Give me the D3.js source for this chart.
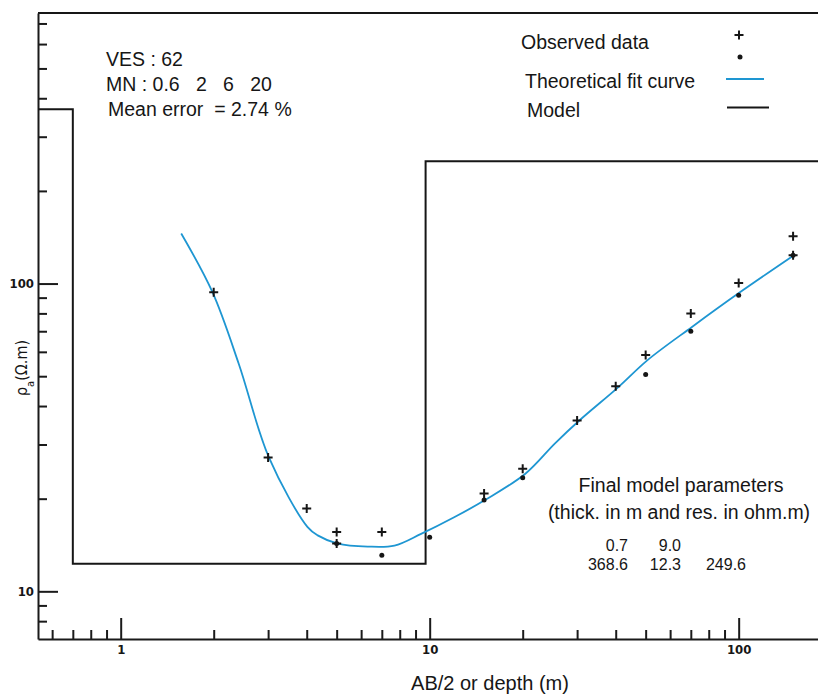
<!DOCTYPE html>
<html>
<head>
<meta charset="utf-8">
<script src="https://cdn.jsdelivr.net/npm/d3@7"></script>
<style>
  html, body { margin: 0; padding: 0; background: #fff; }
  svg { display: block; }
  .txt { font-family: "Liberation Sans", Arial, sans-serif; fill: #161616; }
  .axis text { font-family: "Liberation Sans Narrow", "DejaVu Sans Condensed", "Liberation Sans", sans-serif;
               font-weight: bold; font-size: 13px; fill: #161616; }
  .axis path, .axis line { stroke: #1a1a1a; stroke-width: 2; }
</style>
</head>
<body>
<svg id="chart" width="818" height="694"></svg>
<script>
// VES 62 — Schlumberger sounding: apparent resistivity against AB/2, log-log

// Theoretical fit curve (AB/2 in m, apparent resistivity in ohm.m)
const fitAB  = [1.57, 1.98, 2.41, 3.02, 4.02, 4.34, 5.04, 6.3, 7.69, 9.38, 12.0, 15.1, 20.4, 25.4, 30.5, 40.8, 50.6, 70.6, 99.6, 151];
const fitRho = [145.4, 93.9, 54.9, 27.2, 16.2, 15.2, 14.3, 13.98, 14.08, 15.37, 17.4, 19.8, 24.1, 30.2, 35.9, 46.1, 56.3, 72.3, 92.8, 123.6];

// Observed data, "+" readings
const crossAB  = [2, 3, 4, 5, 5, 7, 15, 20, 30, 40, 50, 70, 100, 150, 150];
const crossRho = [93.7, 27.2, 18.6, 15.6, 14.3, 15.6, 20.8, 25.0, 35.9, 46.4, 58.6, 79.9, 100.5, 142.5, 123.6];

// Observed data, "•" readings
const dotAB  = [5, 7, 10, 15, 20, 50, 70, 100, 150];
const dotRho = [14.3, 13.1, 15.0, 19.8, 23.4, 50.6, 70.0, 91.6, 123.6];

// Final layered model
const layerThick = [0.7, 9.0];
const layerRes   = [368.6, 12.3, 249.6];
const layerThickLabels = ["0.7", "9.0"];
const layerResLabels   = ["368.6", "12.3", "249.6"];

// Ticks
const xMajor = [1, 10, 100];
const xMajorLabels = ["1", "10", "100"];
const xMinor = [0.6, 0.7, 0.8, 0.9, 2, 3, 4, 5, 6, 7, 8, 9, 20, 30, 40, 50, 60, 70, 80, 90];
const yMajor = [10, 100];
const yMajorLabels = ["10", "100"];
const yMinor = [8, 9, 20, 30, 40, 50, 60, 70, 80, 90, 200, 300, 400, 500, 600, 700];

const infoLines = ["VES : 62", "MN : 0.6   2   6   20", "Mean error  = 2.74 %"];
const xTitle = "AB/2 or depth (m)";

const svg = d3.select("#chart");
const plot = { left: 38, right: 818, top: 13, bottom: 639 };

const x = d3.scaleLog().domain([0.54, 180.6]).range([plot.left, plot.right]);
const y = d3.scaleLog().domain([7, 757]).range([plot.bottom, plot.top]);

const ink = "#161616";
const blue = "#1e96d2";

// top frame line
svg.append("line")
  .attr("x1", x.range()[0]).attr("x2", x.range()[1])
  .attr("y1", y.range()[1]).attr("y2", y.range()[1])
  .attr("stroke", ink).attr("stroke-width", 2);

// x axis: minor ticks + baseline, then labelled decades
svg.append("g").attr("class", "axis")
  .attr("transform", `translate(0,${plot.bottom})`)
  .call(d3.axisBottom(x).tickValues(xMinor).tickSizeInner(-9).tickSizeOuter(0).tickFormat(""));
svg.append("g").attr("class", "axis")
  .attr("transform", `translate(0,${plot.bottom})`)
  .call(d3.axisBottom(x).tickValues(xMajor).tickSizeInner(-21).tickSizeOuter(0).tickPadding(6)
        .tickFormat((d, i) => xMajorLabels[i]))
  .call(g => g.select(".domain").remove());

// y axis
svg.append("g").attr("class", "axis")
  .attr("transform", `translate(${plot.left},0)`)
  .call(d3.axisLeft(y).tickValues(yMinor).tickSizeInner(-9).tickSizeOuter(0).tickFormat(""));
svg.append("g").attr("class", "axis")
  .attr("transform", `translate(${plot.left},0)`)
  .call(d3.axisLeft(y).tickValues(yMajor).tickSizeInner(-20).tickSizeOuter(0).tickPadding(4)
        .tickFormat((d, i) => yMajorLabels[i]))
  .call(g => g.select(".domain").remove());

// axis titles
const yt = svg.append("text").attr("class", "txt")
  .attr("transform", "translate(27,368) rotate(-90)")
  .attr("text-anchor", "middle")
  .style("font-family", '"Liberation Sans Narrow","DejaVu Sans Condensed","Liberation Sans",sans-serif')
  .style("font-size", "16px");
yt.append("tspan").text("ρ");
yt.append("tspan").attr("baseline-shift", "sub").style("font-size", "11px").text("a");
yt.append("tspan").text("(Ω.m)");

svg.append("text").attr("class", "txt")
  .attr("x", 490).attr("y", 690)
  .attr("text-anchor", "middle")
  .style("font-size", "20px")
  .text(xTitle);

// layered model as a step line
const depths = d3.cumsum(layerThick);
const modelPts = [[x.domain()[0], layerRes[0]]];
layerThick.forEach((t, i) => {
  modelPts.push([depths[i], layerRes[i]]);
  modelPts.push([depths[i], layerRes[i + 1]]);
});
modelPts.push([x.domain()[1], layerRes[layerRes.length - 1]]);

svg.append("path")
  .datum(modelPts)
  .attr("fill", "none").attr("stroke", ink).attr("stroke-width", 2)
  .attr("d", d3.line().x(d => x(d[0])).y(d => y(d[1])));

// theoretical fit curve
svg.append("path")
  .datum(fitAB.map((a, i) => [a, fitRho[i]]))
  .attr("fill", "none").attr("stroke", blue).attr("stroke-width", 1.8)
  .attr("d", d3.line().x(d => x(d[0])).y(d => y(d[1])).curve(d3.curveCatmullRom.alpha(0.5)));

// observed data
const plus = "M-4.5,0H4.5M0,-4.5V4.5";
svg.append("g").selectAll("path")
  .data(crossAB.map((a, i) => [a, crossRho[i]]))
  .join("path")
  .attr("d", plus)
  .attr("transform", d => `translate(${x(d[0])},${y(d[1])})`)
  .attr("stroke", ink).attr("stroke-width", 2).attr("fill", "none");

svg.append("g").selectAll("circle")
  .data(dotAB.map((a, i) => [a, dotRho[i]]))
  .join("circle")
  .attr("cx", d => x(d[0])).attr("cy", d => y(d[1]))
  .attr("r", 2.5).attr("fill", ink);

// info block
svg.append("g").selectAll("text")
  .data(infoLines)
  .join("text").attr("class", "txt")
  .attr("x", (d, i) => i === 2 ? 108 : 106)
  .attr("y", (d, i) => 66 + i * 25)
  .style("font-size", "19.5px")
  .style("white-space", "pre")
  .text(d => d);

// legend
const lg = svg.append("g");
lg.append("text").attr("class", "txt").attr("x", 521).attr("y", 49).style("font-size", "19.5px").text("Observed data");
lg.append("text").attr("class", "txt").attr("x", 525).attr("y", 88).style("font-size", "19.5px").text("Theoretical fit curve");
lg.append("text").attr("class", "txt").attr("x", 527).attr("y", 116.5).style("font-size", "19.5px").text("Model");
lg.append("path").attr("d", plus).attr("transform", "translate(739,35)")
  .attr("stroke", ink).attr("stroke-width", 2).attr("fill", "none");
lg.append("circle").attr("cx", 740).attr("cy", 57).attr("r", 2.5).attr("fill", ink);
lg.append("line").attr("x1", 726).attr("x2", 764).attr("y1", 79).attr("y2", 79)
  .attr("stroke", blue).attr("stroke-width", 1.8);
lg.append("line").attr("x1", 727).attr("x2", 769).attr("y1", 107.5).attr("y2", 107.5)
  .attr("stroke", ink).attr("stroke-width", 1.8);

// final model parameters
const pg = svg.append("g");
pg.append("text").attr("class", "txt").attr("x", 681).attr("y", 492)
  .attr("text-anchor", "middle").style("font-size", "19.5px").text("Final model parameters");
pg.append("text").attr("class", "txt").attr("x", 679).attr("y", 519)
  .attr("text-anchor", "middle").style("font-size", "19.5px").text("(thick. in m and res. in ohm.m)");
const colRight = [628, 681, 746];
pg.selectAll("text.thk").data(layerThickLabels).join("text").attr("class", "txt thk")
  .attr("x", (d, i) => colRight[i]).attr("y", 551)
  .attr("text-anchor", "end").style("font-size", "16px").text(d => d);
pg.selectAll("text.res").data(layerResLabels).join("text").attr("class", "txt res")
  .attr("x", (d, i) => colRight[i]).attr("y", 570)
  .attr("text-anchor", "end").style("font-size", "16px").text(d => d);
</script>
</body>
</html>
